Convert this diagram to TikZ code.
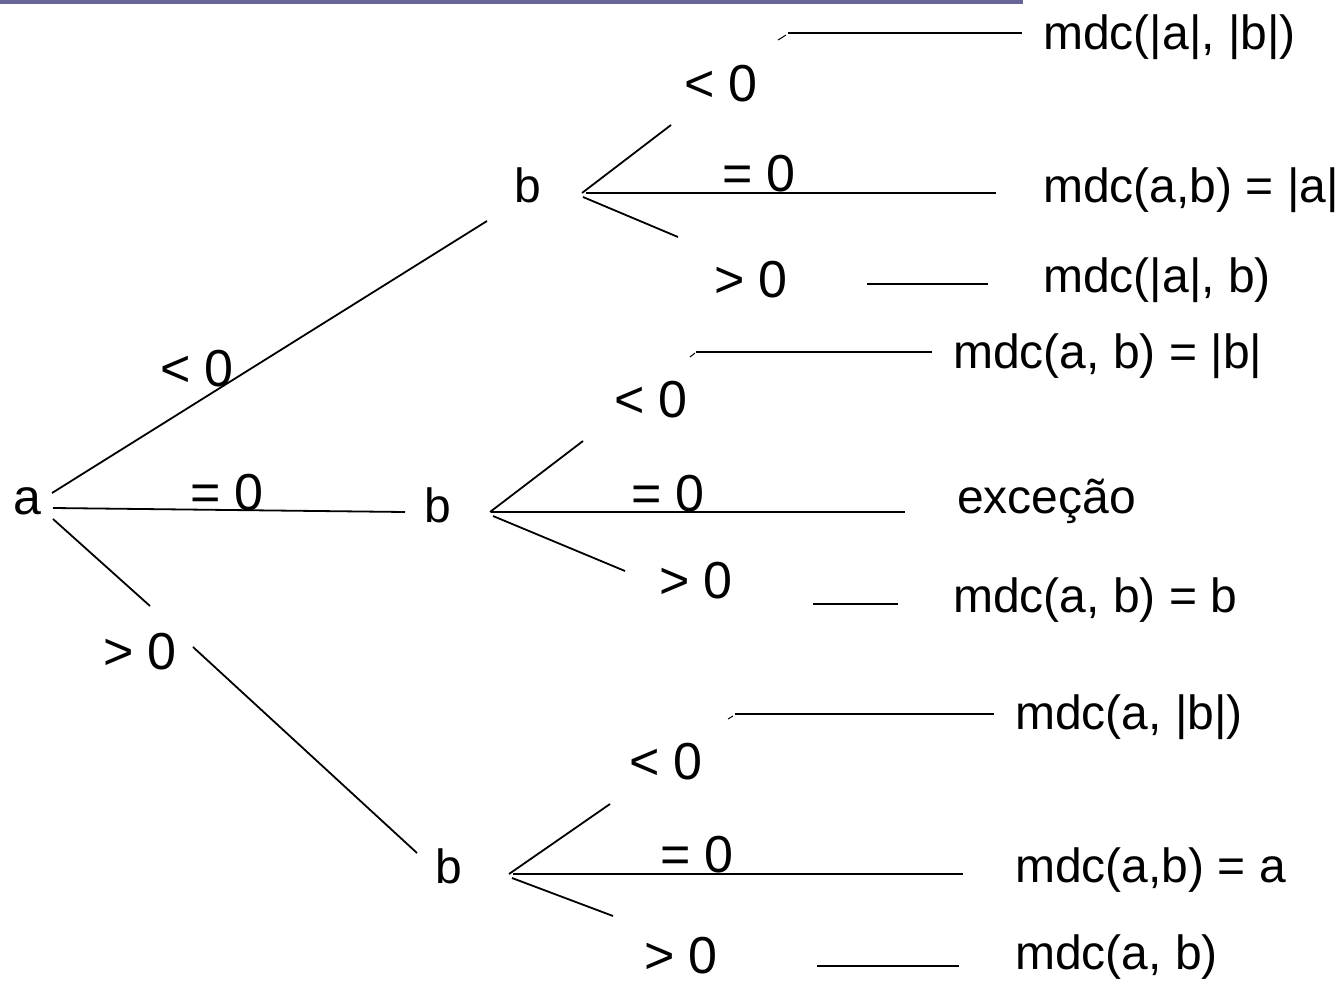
\documentclass[tikz,border=0pt]{standalone}
\usepackage{fontspec}
\setmainfont{Liberation Sans}
\definecolor{barcol}{RGB}{102,102,153}
\begin{document}
\begin{tikzpicture}[x=1pt,y=-1pt,
  txt/.style={inner sep=0pt,font=\fontsize{48}{56}\selectfont},
  lab/.style={inner sep=0pt,font=\fontsize{52}{60}\selectfont},
  res/.style={txt,anchor=west},
  br/.style={line width=1.8pt,line cap=butt},
  hl/.style={line width=2.4pt}]
\useasboundingbox (0,0) rectangle (1341,982);
\fill[barcol] (0,0) rectangle (1023,4);
% main nodes
\node[lab,font=\fontsize{50}{58}\selectfont] (a)  at (27,501) {a};
\node[lab,font=\fontsize{48}{56}\selectfont] (b1) at (528,185) {b};
\node[lab,font=\fontsize{48}{56}\selectfont] (b2) at (438,505) {b};
\node[lab,font=\fontsize{48}{56}\selectfont] (b3) at (449,866) {b};
% labels on a's branches
\node[lab] (la1) at (197,369) {< 0};
\node[lab] (la2) at (227,493) {= 0};
\node[lab] (la3) at (140,652) {> 0};
% labels b1
\node[lab] (l11) at (721,84) {< 0};
\node[lab] (l12) at (759,174) {= 0};
\node[lab] (l13) at (751,280) {> 0};
% labels b2
\node[lab] (l21) at (651,400) {< 0};
\node[lab] (l22) at (668,494) {= 0};
\node[lab] (l23) at (696,581) {> 0};
% labels b3
\node[lab] (l31) at (666,762) {< 0};
\node[lab] (l32) at (697,855) {= 0};
\node[lab] (l33) at (681,956) {> 0};
% results
\node[res] (r11) at (1043,37) {mdc(|a|, |b|)};
\node[res] (r12) at (1043,190) {mdc(a,b) = |a|};
\node[res] (r13) at (1043,280) {mdc(|a|, b)};
\node[res] (r21) at (953,356) {mdc(a, b) = |b|};
\node[txt,anchor=base west] (r22) at (957,513) {exceção};
\node[res] (r23) at (953,600) {mdc(a, b) = b};
\node[res] (r31) at (1015,717) {mdc(a, |b|)};
\node[res] (r32) at (1015,870) {mdc(a,b) = a};
\node[res] (r33) at (1015,957) {mdc(a, b)};
% coordinates
\coordinate (a1s) at (52,493);  \coordinate (a1e) at (487,221);
\coordinate (a2s) at (53,508);  \coordinate (a2e) at (405,512);
\coordinate (a3s) at (53,519);  \coordinate (a3m) at (150,606);
\coordinate (a3n) at (193,647); \coordinate (a3e) at (417,853);
\coordinate (b1u) at (582,193); \coordinate (b1ue) at (671,125);
\coordinate (b1h) at (586,193); \coordinate (b1he) at (996,193);
\coordinate (b1d) at (583,197); \coordinate (b1de) at (678,237);
\coordinate (t1s) at (778,40);  \coordinate (t1e) at (786,35);
\coordinate (r1s) at (788,33);  \coordinate (r1e) at (1022,33);
\coordinate (g1s) at (867,284); \coordinate (g1e) at (988,284);
\coordinate (b2u) at (490,512); \coordinate (b2ue) at (583,441);
\coordinate (b2h) at (491,512); \coordinate (b2he) at (905,512);
\coordinate (b2d) at (493,516); \coordinate (b2de) at (625,571);
\coordinate (t2s) at (690,357); \coordinate (t2e) at (695,353);
\coordinate (r2s) at (696,352); \coordinate (r2e) at (932,352);
\coordinate (g2s) at (813,604); \coordinate (g2e) at (898,604);
\coordinate (b3u) at (509,874); \coordinate (b3ue) at (610,804);
\coordinate (b3h) at (513,874); \coordinate (b3he) at (963,874);
\coordinate (b3d) at (512,878); \coordinate (b3de) at (613,916);
\coordinate (t3s) at (728,719); \coordinate (t3e) at (733,716);
\coordinate (r3s) at (735,714); \coordinate (r3e) at (994,714);
\coordinate (g3s) at (817,966); \coordinate (g3e) at (959,966);
% a branches
\draw[br] (a1s) -- (a1e);
\draw[br] (a2s) -- (a2e);
\draw[br] (a3s) -- (a3m);
\draw[br] (a3n) -- (a3e);
% b1
\draw[br] (b1u) -- (b1ue);
\draw[hl] (b1h) -- (b1he);
\draw[br] (b1d) -- (b1de);
\draw[br,line width=1pt] (t1s) -- (t1e);
\draw[hl] (r1s) -- (r1e);
\draw[hl] (g1s) -- (g1e);
% b2
\draw[br] (b2u) -- (b2ue);
\draw[hl] (b2h) -- (b2he);
\draw[br] (b2d) -- (b2de);
\draw[br,line width=1pt] (t2s) -- (t2e);
\draw[hl] (r2s) -- (r2e);
\draw[hl] (g2s) -- (g2e);
% b3
\draw[br] (b3u) -- (b3ue);
\draw[hl] (b3h) -- (b3he);
\draw[br] (b3d) -- (b3de);
\draw[br,line width=1pt] (t3s) -- (t3e);
\draw[hl] (r3s) -- (r3e);
\draw[hl] (g3s) -- (g3e);
\end{tikzpicture}
\end{document}
